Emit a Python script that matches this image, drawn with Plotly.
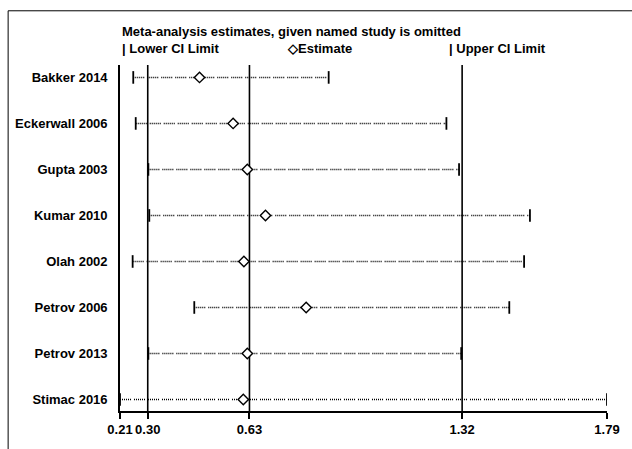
import plotly.graph_objects as go

studies = ["Bakker 2014", "Eckerwall 2006", "Gupta 2003", "Kumar 2010",
           "Olah 2002", "Petrov 2006", "Petrov 2013", "Stimac 2016"]
lower = [0.253, 0.261, 0.302, 0.305, 0.251, 0.451, 0.302, 0.210]
estimate = [0.468, 0.577, 0.623, 0.682, 0.612, 0.814, 0.623, 0.610]
upper = [0.887, 1.269, 1.310, 1.540, 1.521, 1.473, 1.317, 1.790]

ref_lines = [0.30, 0.63, 1.32]
tick_vals = [0.21, 0.30, 0.63, 1.32, 1.79]
tick_text = ["0.21", "0.30", "0.63", "1.32", "1.79"]

FONT = "Liberation Sans, Arial, sans-serif"
DOT = "1px,1px,1px,1px,1px,1px,1px,1px,1px,1px,1px,3px"

fig = go.Figure()

# dotted CI lines
for s, lo, hi in zip(studies, lower, upper):
    fig.add_trace(go.Scatter(x=[lo, hi], y=[s, s], mode="lines",
                             line=dict(color="black", width=1.5, dash=DOT),
                             hoverinfo="skip", showlegend=False))

# CI end ticks
fig.add_trace(go.Scatter(x=lower + upper, y=studies + studies, mode="markers",
                         marker=dict(symbol="line-ns", size=9,
                                     line=dict(color="black", width=1.8)),
                         showlegend=False))

# estimates
fig.add_trace(go.Scatter(x=estimate, y=studies, mode="markers",
                         marker=dict(symbol="diamond", size=8, color="white",
                                     line=dict(color="black", width=1.4)),
                         showlegend=False))

shapes = []
for v in ref_lines:
    shapes.append(dict(type="line", xref="x", yref="paper", x0=v, x1=v,
                       y0=0, y1=1, line=dict(color="black", width=1.6),
                       layer="below"))
# outer frame
shapes.append(dict(type="rect", xref="paper", yref="paper",
                   x0=-0.2297, x1=1.3, y0=-0.3, y1=1.1567,
                   line=dict(color="black", width=1)))

annotations = [
    dict(text="Meta-analysis estimates, given named study is omitted",
         xref="paper", yref="paper", x=0.001, y=1.098, xanchor="left",
         yanchor="middle", showarrow=False,
         font=dict(family=FONT, size=13, color="black", weight="bold")),
    dict(text="| Lower CI Limit", xref="paper", yref="paper", x=0.001,
         y=1.049, xanchor="left", yanchor="middle", showarrow=False,
         font=dict(family=FONT, size=13, color="black", weight="bold")),
    dict(text="◇Estimate", xref="paper", yref="paper", x=0.338,
         y=1.049, xanchor="left", yanchor="middle", showarrow=False,
         font=dict(family=FONT, size=13, color="black", weight="bold")),
    dict(text="| Upper CI Limit", xref="paper", yref="paper", x=0.672,
         y=1.049, xanchor="left", yanchor="middle", showarrow=False,
         font=dict(family=FONT, size=13, color="black", weight="bold")),
]

fig.update_layout(
    width=632, height=449,
    margin=dict(l=119.5, r=22.8, t=65, b=33),
    paper_bgcolor="white", plot_bgcolor="white",
    shapes=shapes, annotations=annotations,
    font=dict(family=FONT, color="black"),
)
fig.update_xaxes(range=[0.21, 1.79], tickvals=tick_vals, ticktext=tick_text,
                 showgrid=False, zeroline=False, showline=True,
                 linecolor="black", linewidth=1.6, ticks="outside",
                 ticklen=6, tickwidth=1.6, tickcolor="black",
                 tickfont=dict(family=FONT, size=13, color="black",
                               weight="bold"))
fig.update_yaxes(type="category", categoryorder="array",
                 categoryarray=studies, range=[7.25, -0.27],
                 showgrid=False, zeroline=False, showline=True,
                 linecolor="black", linewidth=1.6, ticks="",
                 ticklabelstandoff=8,
                 tickfont=dict(family=FONT, size=13, color="black",
                               weight="bold"))

fig.write_html("out.html")
